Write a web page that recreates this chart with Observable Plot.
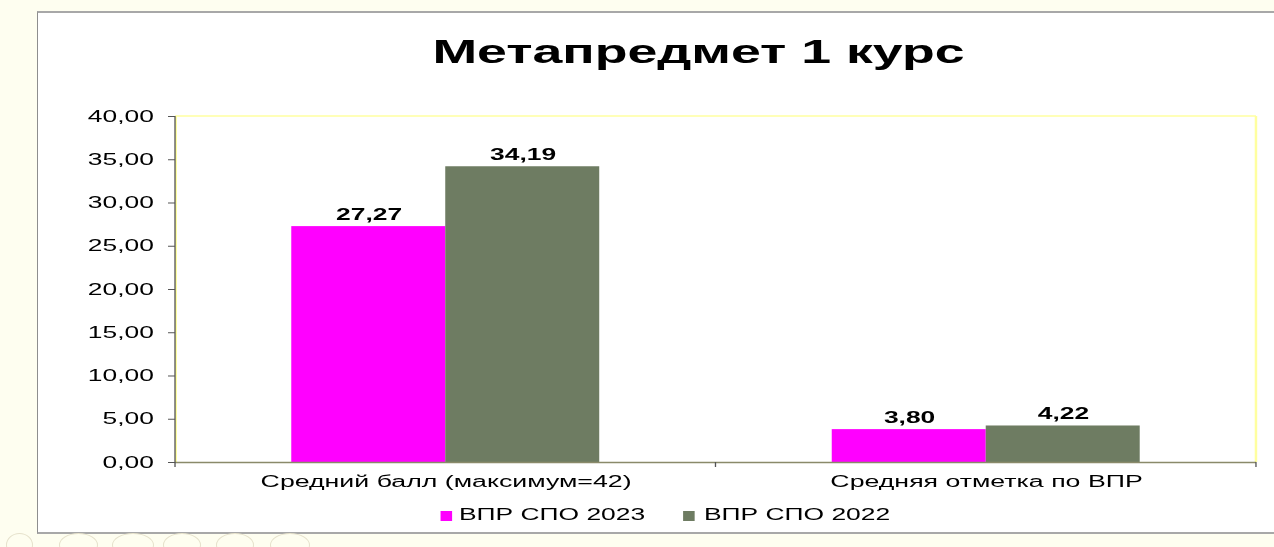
<!DOCTYPE html>
<html>
<head>
<meta charset="utf-8">
<script src="https://cdn.jsdelivr.net/npm/d3@7"></script>
<script src="https://cdn.jsdelivr.net/npm/@observablehq/plot@0.6"></script>
<style>
  html, body { margin: 0; padding: 0; }
  body { width: 1274px; height: 547px; background: #fefef0; position: relative; overflow: hidden; font-family: "Liberation Sans", Arial, sans-serif; }
  #panel { position: absolute; left: 37px; top: 11px; width: 1300px; height: 519px; background: #fff; border-left: 1px solid #8e8e8e; border-top: 2px solid #a8a8a8; border-bottom: 2px solid #a8a8a8; }
  #stretch { position: absolute; left: 0; top: 0; height: 547px; transform-origin: 0 0; }
  #title { position: absolute; left: 0; top: 36px; text-align: center; font-weight: bold; font-size: 32.5px; line-height: 32.5px; color: #000; white-space: nowrap; }
  #chart { position: absolute; left: 0; top: 100px; }
  #legend { position: absolute; left: 0; top: 507px; height: 16px; font-size: 16px; line-height: 16px; color: #000; white-space: nowrap; }
  .sw { position: absolute; top: 4px; height: 10px; }
  .lt { position: absolute; top: 0; }
  .nav { position: absolute; top: 533px; height: 24px; border: 1px solid #e6e2cc; border-radius: 50%; box-sizing: border-box; }
</style>
</head>
<body>
<div id="panel"></div>
<div id="navs"></div>
<div id="stretch">
  <div id="title"></div>
  <div id="chart"></div>
  <div id="legend"></div>
</div>
<script>
// ---- data ----
const title = "Метапредмет 1 курс";
const categories = ["Средний балл (максимум=42)", "Средняя отметка по ВПР"];
const series = ["ВПР СПО 2023", "ВПР СПО 2022"];
const values2023 = [27.27, 3.80];
const values2022 = [34.19, 4.22];
const seriesColors = ["#ff00ff", "#6e7c62"];
const yTicks = [0, 5, 10, 15, 20, 25, 30, 35, 40];

// ---- layout ----
const S = 1.65;              // horizontal stretch of the original slide
const W = 1274 / S;
const fmt = v => v.toFixed(2).replace(".", ",");

const rows = [];
categories.forEach((c, i) => {
  rows.push({category: c, series: series[0], value: values2023[i]});
  rows.push({category: c, series: series[1], value: values2022[i]});
});

const stretch = document.getElementById("stretch");
stretch.style.width = W + "px";
stretch.style.transform = `scaleX(${S})`;

const t = document.getElementById("title");
t.textContent = title;
t.style.width = (2 * 698.5 / S) + "px";

const plot = Plot.plot({
  width: W,
  height: 402,
  marginLeft: 175 / S,
  marginRight: W - 1256 / S,
  marginTop: 16,
  marginBottom: 40,
  style: {fontFamily: "'Liberation Sans', Arial, sans-serif", fontSize: "16px", color: "#000", background: "transparent", overflow: "visible"},
  fx: {domain: categories, padding: 0, round: false, label: null},
  x: {domain: series, axis: null, paddingInner: 0, paddingOuter: 0.755, round: false},
  y: {domain: [0, 40], label: null},
  color: {domain: series, range: seriesColors},
  marks: [
    Plot.axisY({ticks: yTicks, tickFormat: fmt, tickSize: 7 / S, tickPadding: 15 / S, stroke: "#555", fontSize: 16, label: null}),
    Plot.axisFx({anchor: "bottom", tickSize: 0, tickPadding: 13, fontSize: 16.2, label: null}),
    Plot.barY(rows, {fx: "category", x: "series", y: "value", fill: "series", inset: 0}),
    Plot.ruleY([0], {stroke: "#8a8a6a", strokeWidth: 1.5}),
    Plot.text(rows, {fx: "category", x: "series", y: "value", text: d => fmt(d.value), lineAnchor: "bottom", dy: -6.5, fontWeight: "bold", fontSize: 16, fill: "#000"})
  ]
});
document.getElementById("chart").appendChild(plot);

// frame, y-axis line and category boundary ticks, computed from the plot's scales
const fxS = plot.scale("fx");
const yS = plot.scale("y");
const x0 = fxS.range[0], x1 = fxS.range[1];
const step = (x1 - x0) / categories.length;
const yTop = yS.range[1], yBot = yS.range[0];
const svg = d3.select(plot.tagName.toLowerCase() === "svg" ? plot : plot.querySelector("svg"));
const g = svg.insert("g", ":first-child");
g.append("line").attr("x1", x0).attr("x2", x1).attr("y1", yTop).attr("y2", yTop).attr("stroke", "#ffffa0").attr("stroke-width", 1.5);
g.append("line").attr("x1", x1).attr("x2", x1).attr("y1", yTop).attr("y2", yBot).attr("stroke", "#ffffa0").attr("stroke-width", 1.5);
g.append("line").attr("x1", x0 + 0.6).attr("x2", x0 + 0.6).attr("y1", yTop).attr("y2", yBot).attr("stroke", "#ffffa0").attr("stroke-width", 1.2);
const g2 = svg.append("g");
g2.append("line").attr("x1", x0).attr("x2", x0).attr("y1", yTop).attr("y2", yBot).attr("stroke", "#555").attr("stroke-width", 0.8);
for (let i = 0; i <= categories.length; i++) {
  const xx = x0 + i * step;
  g2.append("line").attr("x1", xx).attr("x2", xx).attr("y1", yBot).attr("y2", yBot + 5).attr("stroke", "#555").attr("stroke-width", 0.8);
}

// legend
const legend = document.getElementById("legend");
const swLeft = [440, 683], txLeft = [459, 704];
series.forEach((s, i) => {
  const sw = document.createElement("div");
  sw.className = "sw";
  sw.style.left = (swLeft[i] / S) + "px";
  sw.style.width = (12 / S) + "px";
  sw.style.background = seriesColors[i];
  legend.appendChild(sw);
  const tx = document.createElement("div");
  tx.className = "lt";
  tx.style.left = (txLeft[i] / S) + "px";
  tx.textContent = s;
  legend.appendChild(tx);
});

// faint slide-show navigation ovals below the panel
const navs = document.getElementById("navs");
[[6, 27], [59, 39], [112, 42], [163, 38], [216, 38], [270, 40]].forEach(([l, w]) => {
  const d = document.createElement("div");
  d.className = "nav";
  d.style.left = l + "px";
  d.style.width = w + "px";
  navs.appendChild(d);
});
</script>
</body>
</html>
